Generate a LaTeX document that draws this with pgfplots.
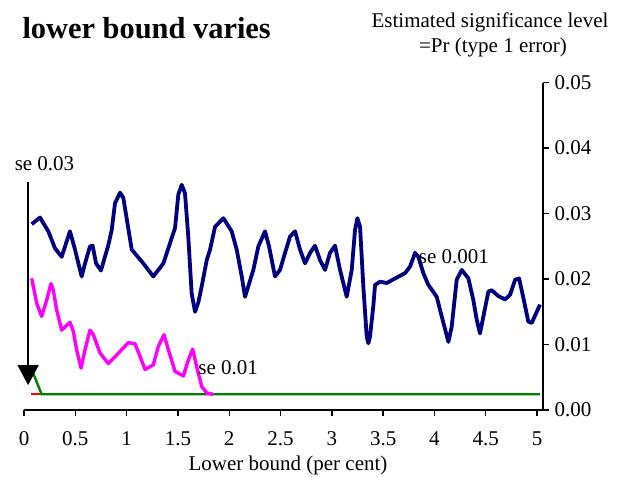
\documentclass[border=0pt]{standalone}
\usepackage{fontspec}
\setmainfont{Liberation Serif}
\usepackage{pgfplots}
\pgfplotsset{compat=1.18}
\usetikzlibrary{arrows.meta}

\definecolor{se001}{RGB}{0,0,128}
\definecolor{se01}{RGB}{255,0,255}
\definecolor{se03}{RGB}{0,128,0}
\definecolor{sered}{RGB}{255,0,0}

\begin{document}
\begin{tikzpicture}[x=1pt,y=1pt]
\useasboundingbox (0,0) rectangle (620,476);

\begin{axis}[
    at={(24pt,66pt)}, anchor=south west,
    scale only axis,
    width=519pt, height=327.3pt,
    xmin=0, xmax=5.058,
    ymin=0, ymax=0.05,
    clip=false,
    axis x line=bottom, axis y line=right,
    axis line style={-, line width=1.4pt},
    tick style={line width=1.4pt, black},
    tick align=outside,
    major tick length=6pt,
    scaled x ticks=false, scaled y ticks=false,
    xtick={0,0.5,1,1.5,2,2.5,3,3.5,4,4.5,5},
    xticklabels={0,0.5,1,1.5,2,2.5,3,3.5,4,4.5,5},
    ytick={0,0.01,0.02,0.03,0.04,0.05},
    yticklabels={0.00,0.01,0.02,0.03,0.04,0.05},
    tick label style={font=\fontsize{21}{24}\selectfont},
    xticklabel style={yshift=-12pt},
    yticklabel style={xshift=2pt},
    /pgf/number format/assume math mode=true,
]

% red series, hidden under the green one but for its first step
\addplot[sered, line width=2.4pt] coordinates {(0.07,0.0024) (0.17,0.0024)};

% se 0.03
\addplot[se03, line width=2.4pt] coordinates {
(0.09,0.0056) (0.172,0.0024) (5.03,0.0024)
};

% se 0.01
\addplot[se01, line width=3.4pt, line join=round] coordinates {
(0.075,0.0201) (0.124,0.0163) (0.172,0.0143) (0.221,0.0168) (0.263,0.0193)
(0.286,0.0183) (0.318,0.0153) (0.367,0.0122) (0.448,0.0134) (0.481,0.0120)
(0.513,0.0092) (0.556,0.0064) (0.595,0.0092) (0.643,0.0122) (0.676,0.0115)
(0.741,0.0087) (0.822,0.0071) (0.903,0.0084) (1.017,0.0103) (1.082,0.0101)
(1.131,0.0082) (1.179,0.0062) (1.260,0.0069) (1.309,0.0097) (1.365,0.0115)
(1.407,0.0092) (1.472,0.0059) (1.553,0.0052) (1.601,0.0076) (1.644,0.0093)
(1.683,0.0066) (1.732,0.0036) (1.781,0.0026) (1.845,0.0024)
};

% se 0.001
\addplot[se001, line width=3.8pt, line join=round] coordinates {
(0.075,0.0284) (0.156,0.0294) (0.237,0.0273) (0.302,0.0247) (0.367,0.0234)
(0.448,0.0273) (0.497,0.0245) (0.562,0.0204) (0.595,0.0224) (0.643,0.0250)
(0.669,0.0251) (0.702,0.0224) (0.750,0.0213) (0.822,0.0252) (0.855,0.0275)
(0.887,0.0316) (0.936,0.0332) (0.968,0.0324) (1.050,0.0245) (1.163,0.0224)
(1.260,0.0204) (1.358,0.0224) (1.472,0.0278) (1.504,0.0329) (1.537,0.0344)
(1.569,0.0331) (1.601,0.0265) (1.634,0.0178) (1.667,0.0150) (1.700,0.0165)
(1.732,0.0189) (1.781,0.0229) (1.813,0.0245) (1.862,0.0280) (1.943,0.0293)
(2.024,0.0273) (2.073,0.0245) (2.122,0.0204) (2.154,0.0173) (2.186,0.0189)
(2.235,0.0214) (2.284,0.0250) (2.349,0.0273) (2.388,0.0250) (2.446,0.0204)
(2.495,0.0214) (2.544,0.0240) (2.593,0.0265) (2.641,0.0273) (2.690,0.0245)
(2.739,0.0224) (2.788,0.0240) (2.836,0.0251) (2.885,0.0229) (2.934,0.0214)
(2.982,0.0240) (3.031,0.0251) (3.080,0.0214) (3.145,0.0173) (3.194,0.0214)
(3.226,0.0275) (3.249,0.0293) (3.275,0.0280) (3.307,0.0189) (3.340,0.0112)
(3.356,0.0102) (3.372,0.0112) (3.405,0.0160) (3.421,0.0191) (3.470,0.0196)
(3.535,0.0194) (3.616,0.0201) (3.713,0.0209) (3.762,0.0219) (3.811,0.0240)
(3.843,0.0234) (3.892,0.0209) (3.941,0.0191) (4.022,0.0173) (4.071,0.0143)
(4.136,0.0104) (4.168,0.0127) (4.217,0.0199) (4.266,0.0214) (4.331,0.0201)
(4.379,0.0168) (4.412,0.0138) (4.444,0.0117) (4.477,0.0143) (4.526,0.0181)
(4.558,0.0183) (4.623,0.0174) (4.688,0.0169) (4.737,0.0176) (4.786,0.0199)
(4.825,0.0201) (4.867,0.0171) (4.915,0.0135) (4.948,0.0133) (5.029,0.0161)
};

% arrow and series labels
\draw[line width=1.4pt, -{Triangle[width=21pt,length=20pt]}]
    (axis cs:0.04,0.0349) -- (axis cs:0.04,0.0038);
\node[font=\fontsize{21}{24}\selectfont] at (axis cs:0.20,0.0377) {se 0.03};
\node[font=\fontsize{21}{24}\selectfont] at (axis cs:4.19,0.0235) {se 0.001};
\node[font=\fontsize{21}{24}\selectfont] at (axis cs:1.99,0.0064) {se 0.01};
\end{axis}

% titles and axis label
\node[anchor=base west, font=\bfseries\fontsize{30.4}{34}\selectfont] at (19,437) {lower bound varies};
\node[anchor=base, font=\fontsize{21}{24}\selectfont] at (490,448) {Estimated significance level};
\node[anchor=base, font=\fontsize{21}{24}\selectfont] at (493,423) {=Pr (type 1 error)};
\node[font=\fontsize{21}{24}\selectfont] at (288,11) {Lower bound (per cent)};
\end{tikzpicture}
\end{document}
